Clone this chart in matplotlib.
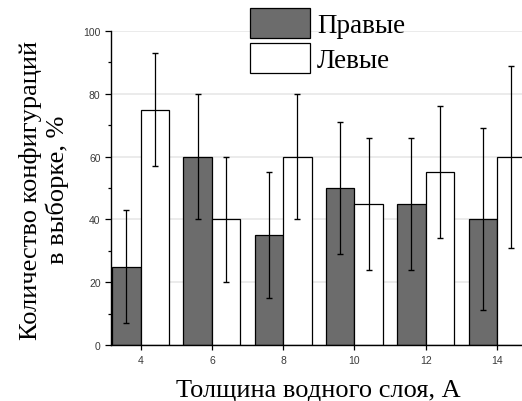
import numpy as np
import matplotlib.pyplot as plt

# толщина водного слоя
tolshina = [4, 6, 8, 10, 12, 14]
pravye = [25, 60, 35, 50, 45, 40]
pravye_err = [18, 20, 20, 21, 21, 29]
levye = [75, 40, 60, 45, 55, 60]
levye_err = [18, 20, 20, 21, 21, 29]

my_dpi = 100
fig = plt.figure(figsize=(522/my_dpi, 402/my_dpi), dpi=my_dpi)
ax = fig.add_axes([111/522, 1 - 346/402, 1 - 111/522, 314/402])

x = np.array(tolshina, dtype=float)
w = 0.8
ax.bar(x - w/2, pravye, width=w, color='#6c6c6c', edgecolor='black', linewidth=0.9,
       label='Правые', zorder=2)
ax.bar(x + w/2, levye, width=w, color='white', edgecolor='black', linewidth=0.9,
       label='Левые', zorder=2)
ax.errorbar(x - w/2, pravye, yerr=pravye_err, fmt='none', ecolor='black',
            elinewidth=0.9, capsize=2.5, capthick=1.0, zorder=3)
ax.errorbar(x + w/2, levye, yerr=levye_err, fmt='none', ecolor='black',
            elinewidth=0.9, capsize=2.5, capthick=1.0, zorder=3)

ax.set_xlim(3.17, 14.7)
ax.set_ylim(0, 100)
ax.set_xticks(tolshina)
ax.set_yticks(range(0, 101, 20))
ax.set_yticks(range(10, 100, 20), minor=True)
ax.yaxis.grid(True, color='#e8e8e8', linewidth=1.2, zorder=0)
ax.set_axisbelow(True)
for s in ['top', 'right']:
    ax.spines[s].set_visible(False)
ax.spines['left'].set_linewidth(1.0)
ax.spines['bottom'].set_linewidth(1.0)
ax.tick_params(axis='both', labelsize=7.5, labelcolor='#3a3a3a', length=4, width=0.9)
ax.tick_params(axis='x', direction='inout', length=7)
ax.tick_params(axis='y', which='minor', length=2.5, width=0.9)
for lab in ax.get_xticklabels() + ax.get_yticklabels():
    lab.set_family('Liberation Sans')

fig.text(318/522, 1 - 391/402, 'Толщина водного слоя, А', family='Liberation Serif',
         fontsize=19, ha='center', va='center')
fig.text(44/522, 1 - 190/402, 'Количество конфигураций\nв выборке, %',
         family='Liberation Serif', fontsize=19, rotation=90, ha='center', va='center',
         linespacing=1.15, multialignment='center')

ax.legend(loc='upper left', bbox_to_anchor=(139/411, 1.072), frameon=False,
          prop={'family': 'Liberation Serif', 'size': 19.5},
          handlelength=2.22, handleheight=1.33, handletextpad=0.26, labelspacing=0.15,
          borderpad=0.0, borderaxespad=0.0)

plt.savefig('out.png', dpi=my_dpi)
